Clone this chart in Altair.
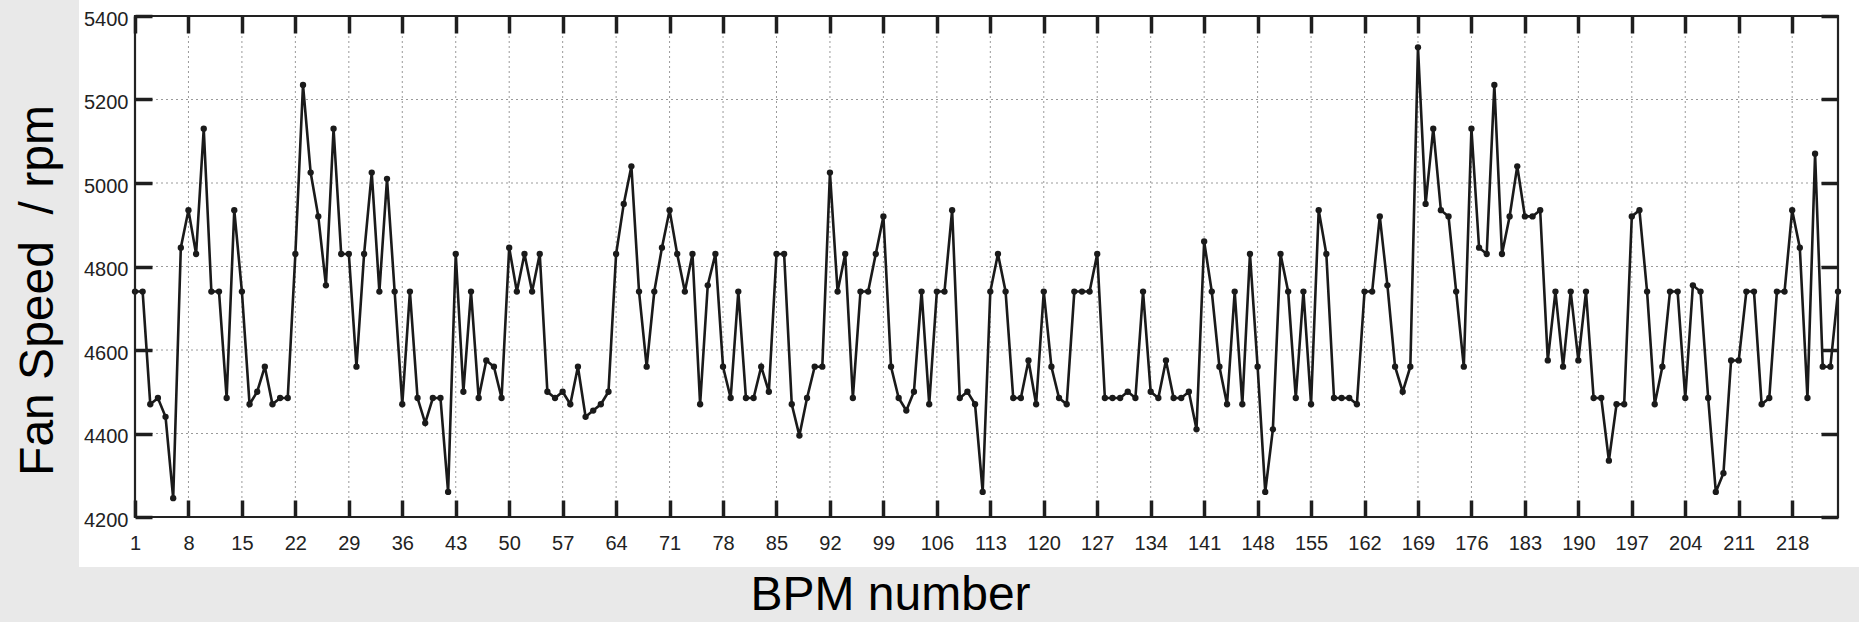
import altair as alt
import pandas as pd

# ---- data ----
fan_speed = [
    4740, 4740, 4470, 4485, 4440, 4245, 4845, 4935, 4830, 5130,
    4740, 4740, 4485, 4935, 4740, 4470, 4500, 4560, 4470, 4485,
    4485, 4830, 5235, 5025, 4920, 4755, 5130, 4830, 4830, 4560,
    4830, 5025, 4740, 5010, 4740, 4470, 4740, 4485, 4425, 4485,
    4485, 4260, 4830, 4500, 4740, 4485, 4575, 4560, 4485, 4845,
    4740, 4830, 4740, 4830, 4500, 4485, 4500, 4470, 4560, 4440,
    4455, 4470, 4500, 4830, 4950, 5040, 4740, 4560, 4740, 4845,
    4935, 4830, 4740, 4830, 4470, 4755, 4830, 4560, 4485, 4740,
    4485, 4485, 4560, 4500, 4830, 4830, 4470, 4395, 4485, 4560,
    4560, 5025, 4740, 4830, 4485, 4740, 4740, 4830, 4920, 4560,
    4485, 4455, 4500, 4740, 4470, 4740, 4740, 4935, 4485, 4500,
    4470, 4260, 4740, 4830, 4740, 4485, 4485, 4575, 4470, 4740,
    4560, 4485, 4470, 4740, 4740, 4740, 4830, 4485, 4485, 4485,
    4500, 4485, 4740, 4500, 4485, 4575, 4485, 4485, 4500, 4410,
    4860, 4740, 4560, 4470, 4740, 4470, 4830, 4560, 4260, 4410,
    4830, 4740, 4485, 4740, 4470, 4935, 4830, 4485, 4485, 4485,
    4470, 4740, 4740, 4920, 4755, 4560, 4500, 4560, 5325, 4950,
    5130, 4935, 4920, 4740, 4560, 5130, 4845, 4830, 5235, 4830,
    4920, 5040, 4920, 4920, 4935, 4575, 4740, 4560, 4740, 4575,
    4740, 4485, 4485, 4335, 4470, 4470, 4920, 4935, 4740, 4470,
    4560, 4740, 4740, 4485, 4755, 4740, 4485, 4260, 4305, 4575,
    4575, 4740, 4740, 4470, 4485, 4740, 4740, 4935, 4845, 4485,
    5070, 4560, 4560, 4740,
]
bpm = list(range(1, len(fan_speed) + 1))

x_ticks = list(range(1, 219, 7))          # 1, 8, ..., 218
y_ticks = [4200, 4400, 4600, 4800, 5000, 5200, 5400]
x_domain = [1, 224]
y_domain = [4200, 5400]

x_title = "BPM number"
y_title = "Fan Speed\u00a0 / rpm"

# ---- tables built from the arrays ----
df = pd.DataFrame({"bpm": bpm, "speed": fan_speed})
xgrid_df = pd.DataFrame({"bpm": x_ticks[1:]})
ygrid_df = pd.DataFrame({"speed": y_ticks[1:-1]})
frame_df = pd.DataFrame(
    {"bpm": [x_domain[0]], "bpm2": [x_domain[1]], "speed": [y_domain[0]], "speed2": [y_domain[1]]}
)
panel_df = pd.DataFrame({"k": [0]})

FONT = "Liberation Sans"
INK = "#1a1a1a"
TL = 17  # inward tick length (px)
xscale = alt.Scale(domain=x_domain, nice=False, zero=False)
yscale = alt.Scale(domain=y_domain, nice=False, zero=False)

common_tick = dict(ticks=True, tickSize=TL, tickWidth=3.5, tickColor="#1e1e1e",
                   domain=False, grid=False, offset=-TL, zindex=1)

x_bottom = alt.Axis(
    orient="bottom", values=x_ticks, title=x_title, format="d",
    labelFontSize=20, labelColor="#222222", labelFont=FONT, labelPadding=16,
    labelFlush=False, labelOverlap=False, labelBound=False,
    titleFont=FONT, titleFontSize=48, titleFontWeight="normal", titleColor="#000000",
    titleX=755, titleY=92 + TL, titleBaseline="alphabetic", titleAlign="center",
    **common_tick,
)
y_left = alt.Axis(
    orient="left", values=y_ticks, title=y_title, format="d",
    labelFontSize=20, labelColor="#222222", labelFont=FONT, labelPadding=7,
    labelOffset=3, labelOverlap=False, labelBound=False,
    titleFont=FONT, titleFontSize=48, titleFontWeight="normal", titleColor="#000000",
    titleAngle=270, titleX=-83 - TL, titleY=274, titleBaseline="alphabetic", titleAlign="center",
    **common_tick,
)
x_top = alt.Axis(orient="top", values=x_ticks, labels=False, title=None, **common_tick)
y_right = alt.Axis(orient="right", values=y_ticks, labels=False, title=None, **common_tick)

panel = alt.Chart(panel_df).mark_rect(color="#ffffff").encode(
    x=alt.value(-56), x2=alt.value(1724), y=alt.value(-16), y2=alt.value(551)
)

xgrid = alt.Chart(xgrid_df).mark_rule(
    color="#9a9a9a", strokeWidth=1, strokeDash=[2, 3]
).encode(x=alt.X("bpm:Q", scale=xscale, axis=x_top))

ygrid = alt.Chart(ygrid_df).mark_rule(
    color="#9a9a9a", strokeWidth=1, strokeDash=[2, 3]
).encode(y=alt.Y("speed:Q", scale=yscale, axis=y_right))

line = alt.Chart(df).mark_line(color=INK, strokeWidth=2.6).encode(
    x=alt.X("bpm:Q", scale=xscale, axis=x_bottom),
    y=alt.Y("speed:Q", scale=yscale, axis=y_left),
)
points = alt.Chart(df).mark_circle(color=INK, size=40, opacity=1).encode(
    x=alt.X("bpm:Q", scale=xscale, axis=None),
    y=alt.Y("speed:Q", scale=yscale, axis=None),
)

frame = alt.Chart(frame_df).mark_rect(
    fillOpacity=0, stroke="#222222", strokeWidth=2.2
).encode(
    x=alt.X("bpm:Q", scale=xscale, axis=None), x2="bpm2:Q",
    y=alt.Y("speed:Q", scale=yscale, axis=None), y2="speed2:Q",
)

chart = alt.layer(
    panel, xgrid, ygrid, line, points, frame
).resolve_axis(
    x="independent", y="independent"
).properties(
    width=1703,
    height=501,
    autosize=alt.AutoSizeParams(type="none"),
    padding={"left": 135, "top": 16, "right": 21, "bottom": 105},
    background="#e9e9e9",
).configure_view(stroke=None)

chart.save("out.html", embed_options={"renderer": "svg", "actions": False})
